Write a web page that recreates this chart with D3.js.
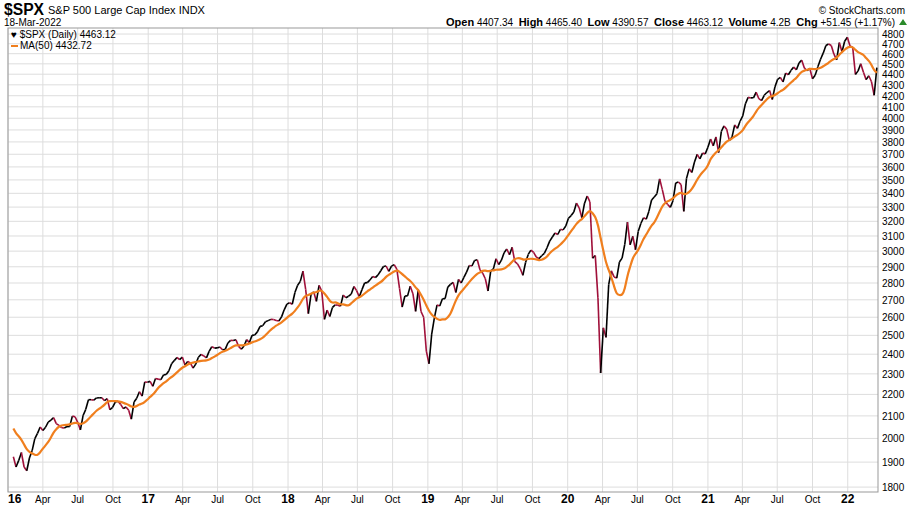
<!DOCTYPE html>
<html>
<head>
<meta charset="UTF-8">
<style>
  body { margin: 0; background: #fff; font-family: "Liberation Sans", Arial, sans-serif; }
  svg text { fill: #000; }
</style>
</head>
<body>
<svg id="chart" width="909" height="508"></svg>
<script src="https://d3js.org/d3.v7.min.js"></script>
<script>
// weekly closes, warm-up weeks for the moving average
const warmup = [2033, 2075, 2089, 2065, 2099, 2023, 2089, 2090, 2091, 2012, 2005, 2061, 2044];
const close2016 = [1922, 1880, 1907, 1940, 1880, 1865, 1917, 1948, 1999, 2022, 2050, 2035, 2049, 2072, 2081, 2092, 2065, 2057, 2047, 2046, 2052, 2052, 2099, 2096, 2071, 2037, 2102, 2130, 2175, 2175, 2173, 2183, 2184, 2184, 2170, 2180, 2128, 2139, 2164, 2168, 2153, 2133, 2141, 2126, 2085, 2164, 2182, 2213, 2192, 2260, 2259, 2263, 2239];
const close2017 = [2277, 2274, 2271, 2295, 2297, 2316, 2351, 2367, 2383, 2372, 2385, 2344, 2363, 2355, 2329, 2349, 2384, 2399, 2391, 2381, 2415, 2439, 2432, 2433, 2438, 2423, 2425, 2459, 2473, 2472, 2476, 2441, 2426, 2443, 2477, 2461, 2500, 2502, 2519, 2549, 2553, 2575, 2581, 2588, 2587, 2582, 2579, 2602, 2642, 2675, 2683, 2674];
const close2018 = [2743, 2786, 2810, 2873, 2762, 2620, 2732, 2747, 2691, 2786, 2752, 2588, 2640, 2604, 2656, 2670, 2669, 2663, 2728, 2712, 2721, 2734, 2779, 2754, 2718, 2760, 2801, 2802, 2819, 2840, 2833, 2850, 2875, 2902, 2905, 2872, 2904, 2914, 2885, 2767, 2658, 2722, 2723, 2781, 2736, 2633, 2760, 2633, 2600, 2416, 2351, 2507];
const close2019 = [2596, 2670, 2664, 2706, 2707, 2775, 2792, 2804, 2743, 2822, 2800, 2834, 2867, 2908, 2905, 2940, 2945, 2881, 2860, 2826, 2752, 2873, 2887, 2951, 2914, 2942, 2990, 3014, 2977, 3025, 2932, 2918, 2889, 2847, 2927, 2979, 3007, 2992, 2962, 2952, 2970, 2986, 3022, 3066, 3093, 3120, 3110, 3145, 3141, 3168, 3221, 3240];
const close2020 = [3265, 3329, 3295, 3225, 3328, 3380, 3337, 2954, 2972, 2711, 2304, 2541, 2489, 2790, 2875, 2837, 2830, 2930, 2955, 3044, 3194, 3041, 3098, 3009, 3130, 3185, 3225, 3215, 3271, 3351, 3373, 3397, 3508, 3427, 3341, 3319, 3298, 3348, 3477, 3484, 3465, 3270, 3510, 3585, 3557, 3638, 3699, 3663, 3709, 3703, 3756];
const close2021 = [3824, 3768, 3841, 3714, 3887, 3934, 3907, 3811, 3842, 3943, 3913, 3974, 4020, 4128, 4185, 4180, 4181, 4232, 4173, 4156, 4204, 4229, 4247, 4166, 4281, 4352, 4370, 4327, 4411, 4395, 4437, 4468, 4442, 4509, 4536, 4458, 4433, 4455, 4357, 4391, 4471, 4545, 4605, 4682, 4697, 4682, 4595, 4538, 4712, 4620, 4725, 4766];
const close2022 = [4677, 4663, 4398, 4432, 4500, 4419, 4349, 4385, 4329, 4204, 4463];
const yTicks = d3.range(1800, 4801, 100);
const xTicks = [["2016-01-01","16"],["2016-04-01","Apr"],["2016-07-01","Jul"],["2016-10-01","Oct"],
  ["2017-01-01","17"],["2017-04-01","Apr"],["2017-07-01","Jul"],["2017-10-01","Oct"],
  ["2018-01-01","18"],["2018-04-01","Apr"],["2018-07-01","Jul"],["2018-10-01","Oct"],
  ["2019-01-01","19"],["2019-04-01","Apr"],["2019-07-01","Jul"],["2019-10-01","Oct"],
  ["2020-01-01","20"],["2020-04-01","Apr"],["2020-07-01","Jul"],["2020-10-01","Oct"],
  ["2021-01-01","21"],["2021-04-01","Apr"],["2021-07-01","Jul"],["2021-10-01","Oct"],
  ["2022-01-01","22"]];

const closes = [].concat(close2016, close2017, close2018, close2019, close2020, close2021, close2022);
const all = warmup.concat(closes);
const last = new Date(2022, 2, 18);
const n = closes.length;
const data = closes.map((c, i) => {
  const k = i + warmup.length;
  const win = all.slice(k - 9, k + 1);
  return {
    date: d3.timeDay.offset(last, -7 * (n - 1 - i)),
    close: c,
    prev: all[k - 1],
    ma: d3.mean(win)
  };
});

const svg = d3.select("#chart");
const L = 8, R = 878, T = 28, B = 492;
const x = d3.scaleTime().domain([new Date(2016, 0, 1), new Date(2022, 2, 21)]).range([L, R]);
const y = d3.scaleLog().domain([1781, 4863]).range([B, T]);

// grid
svg.append("g").selectAll("line").data(yTicks).join("line")
  .attr("x1", L).attr("x2", R).attr("y1", d => y(d)).attr("y2", d => y(d))
  .attr("stroke", "#ddd");
svg.append("g").selectAll("line").data(xTicks).join("line")
  .attr("x1", d => x(new Date(d[0]))).attr("x2", d => x(new Date(d[0])))
  .attr("y1", T).attr("y2", B).attr("stroke", "#ddd");
svg.append("rect").attr("x", L).attr("y", T).attr("width", R - L).attr("height", B - T)
  .attr("fill", "none").attr("stroke", "#999");

// axes labels
svg.append("g").selectAll("text").data(yTicks).join("text")
  .attr("x", R + 4).attr("y", d => y(d) + 4).attr("font-size", 10).text(d => d);
svg.append("g").selectAll("text").data(xTicks).join("text")
  .attr("x", d => x(new Date(d[0]))).attr("y", 503)
  .attr("text-anchor", d => d[1] === "16" ? "start" : "middle")
  .attr("font-size", d => d[1].length === 2 ? 12 : 10)
  .attr("font-weight", d => d[1].length === 2 ? "bold" : "normal")
  .text(d => d[1]);

// price
svg.append("g").selectAll("line").data(data.slice(1)).join("line")
  .attr("x1", (d, i) => x(data[i].date)).attr("y1", (d, i) => y(data[i].close))
  .attr("x2", d => x(d.date)).attr("y2", d => y(d.close))
  .attr("stroke", d => d.close < d.prev ? "#a0103a" : "#000")
  .attr("stroke-width", 1.6);

// MA(50)
svg.append("path").datum(data)
  .attr("d", d3.line().x(d => x(d.date)).y(d => y(d.ma)).curve(d3.curveBasis))
  .attr("fill", "none").attr("stroke", "#f07f1e").attr("stroke-width", 2.2);

// header
svg.append("text").attr("x", 4).attr("y", 15).attr("font-size", 16).attr("font-weight", "bold")
  .attr("textLength", 40).attr("lengthAdjust", "spacingAndGlyphs").text("$SPX");
svg.append("text").attr("x", 48).attr("y", 14).attr("font-size", 11).text("S&P 500 Large Cap Index  INDX");
svg.append("text").attr("x", 4).attr("y", 26).attr("font-size", 10).text("18-Mar-2022");
svg.append("text").attr("x", 905).attr("y", 14).attr("font-size", 10).attr("fill", "#555")
  .attr("text-anchor", "end").text("© StockCharts.com");
const hdr = svg.append("text").attr("x", 895).attr("y", 26).attr("font-size", 10).attr("text-anchor", "end");
[["Open", " 4407.34  "], ["High", " 4465.40  "], ["Low", " 4390.57  "], ["Close", " 4463.12  "], ["Volume", " 4.2B  "], ["Chg", " +51.45 (+1.17%)"]]
  .forEach(([k, v]) => {
    hdr.append("tspan").attr("font-weight", "bold").attr("font-size", 11).text(k);
    hdr.append("tspan").attr("xml:space", "preserve").text(v);
  });
svg.append("path").attr("d", "M899,25 L907,25 L903,19 Z").attr("fill", "#2a8a2a");

// legend
svg.append("text").attr("x", 11).attr("y", 38).attr("font-size", 10).text("\u2665 $SPX (Daily) 4463.12");
svg.append("line").attr("x1", 11).attr("x2", 18).attr("y1", 46).attr("y2", 46).attr("stroke", "#f07f1e").attr("stroke-width", 2);
svg.append("text").attr("x", 20).attr("y", 49).attr("font-size", 10).attr("fill", "#e0701a").text("MA(50) 4432.72");
</script>
</body>
</html>
